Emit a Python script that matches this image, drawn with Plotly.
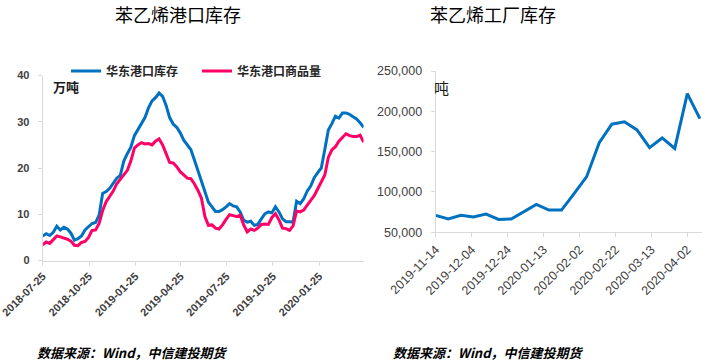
import pandas as pd
import plotly.graph_objects as go

# ---------------- data ----------------
port_start = "2018-07-25"
port_stock = [5.3, 5.8, 5.4, 6.1, 7.4, 6.6, 7.2, 6.8, 5.9, 4.4, 4.7, 5.3, 6.6, 7.2, 8.0, 8.2,
              9.8, 14.5, 14.9, 15.6, 16.7, 17.8, 18.4, 21.5, 23.1, 24.5, 27.0, 28.2, 29.4, 30.9,
              33.0, 34.5, 35.2, 36.2, 35.5, 33.5, 30.9, 29.5, 28.8, 27.6, 26.0, 24.9, 24.0, 21.8,
              19.4, 17.2, 15.0, 12.6, 11.6, 10.6, 10.6, 11.0, 11.6, 12.3, 11.8, 11.6, 10.5, 8.7,
              8.3, 8.5, 7.6, 7.8, 9.0, 10.1, 10.5, 10.3, 11.6, 10.5, 9.0, 8.4, 8.4, 8.3, 12.8,
              12.3, 13.3, 15.0, 16.1, 17.9, 19.0, 20.0, 24.0, 28.2, 29.6, 31.2, 30.8, 31.9, 31.9,
              31.6, 31.1, 30.6, 29.8, 28.8]
port_goods = [3.4, 4.0, 3.7, 4.4, 5.3, 5.1, 4.9, 4.6, 4.2, 3.3, 3.2, 3.9, 4.1, 5.0, 6.5, 6.6,
              8.0, 10.8, 12.7, 13.9, 15.0, 16.6, 17.5, 18.5, 19.5, 21.5, 24.3, 25.0, 25.5, 25.2,
              25.3, 25.0, 25.8, 26.3, 25.0, 23.1, 21.2, 21.1, 20.3, 19.2, 18.4, 17.8, 17.7, 16.6,
              15.2, 13.5, 9.5, 7.6, 7.7, 7.0, 6.8, 7.7, 8.9, 9.9, 9.7, 9.5, 9.8, 7.7, 6.2, 6.8,
              6.5, 7.0, 7.8, 7.9, 7.8, 9.3, 10.1, 8.8, 7.0, 6.9, 6.5, 7.5, 10.7, 10.5, 10.9, 12.1,
              13.0, 14.0, 15.4, 16.8, 18.5, 22.3, 23.9, 24.6, 25.8, 26.6, 27.4, 27.0, 26.8, 26.8,
              27.1, 25.6]
port_dates = pd.date_range(port_start, periods=len(port_stock), freq="7D")
port_ticks = ["2018-07-25", "2018-10-25", "2019-01-25", "2019-04-25",
              "2019-07-25", "2019-10-25", "2020-01-25"]

plant_dates = ["2019-11-14", "2019-11-21", "2019-11-28", "2019-12-05", "2019-12-12",
               "2019-12-19", "2019-12-26", "2020-01-02", "2020-01-09", "2020-01-16",
               "2020-01-23", "2020-01-30", "2020-02-06", "2020-02-13", "2020-02-20",
               "2020-02-27", "2020-03-05", "2020-03-12", "2020-03-19", "2020-03-26",
               "2020-04-02", "2020-04-09"]
plant_stock = [71000, 66500, 71000, 69000, 72500, 66000, 66500, 75000, 84500, 77500, 77500,
               98000, 119000, 161000, 184000, 187000, 177000, 155000, 167000, 154000,
               222000, 191000]
plant_ticks = ["2019-11-14", "2019-12-04", "2019-12-24", "2020-01-13", "2020-02-02",
               "2020-02-22", "2020-03-13", "2020-04-02"]

BLUE = "#0070C0"
PINK = "#FF0066"
W, H = 718, 364

def px(x):
    return x / W

def py(y):
    return 1 - y / H

fig = go.Figure()
fig.add_trace(go.Scatter(x=port_dates, y=port_stock, mode="lines", name="华东港口库存",
                         line=dict(color=BLUE, width=3), xaxis="x", yaxis="y"))
fig.add_trace(go.Scatter(x=port_dates, y=port_goods, mode="lines", name="华东港口商品量",
                         line=dict(color=PINK, width=3), xaxis="x", yaxis="y"))
fig.add_trace(go.Scatter(x=plant_dates, y=plant_stock, mode="lines", name="苯乙烯工厂库存",
                         line=dict(color=BLUE, width=3), xaxis="x2", yaxis="y2",
                         showlegend=False))

axis_common = dict(showgrid=False, zeroline=False, showline=True, linecolor="#D9D9D9",
                   linewidth=1, ticks="outside", tickcolor="#D9D9D9", ticklen=4,
                   automargin=False, ticklabeloverflow="allow")

fig.update_layout(
    width=W, height=H,
    margin=dict(l=0, r=0, t=0, b=0, autoexpand=False),
    paper_bgcolor="white", plot_bgcolor="white",
    font=dict(family="Liberation Sans, Arial, Noto Sans CJK SC", color="#404040"),
    xaxis=dict(axis_common, type="date", domain=[px(42.7), px(363.6)],
               range=[port_start, "2020-04-22"], tickvals=port_ticks, ticktext=port_ticks,
               tickangle=-45, anchor="y",
               tickfont=dict(size=11, weight="bold", color="#404040")),
    yaxis=dict(axis_common, domain=[py(260.5), py(75.5)], range=[0, 40], dtick=10,
               anchor="x", ticklabelstandoff=6,
               tickfont=dict(size=11, weight="bold", color="#404040")),
    xaxis2=dict(axis_common, type="date", domain=[px(435.7), px(701.7)],
                range=["2019-11-14", "2020-04-10"], tickvals=plant_ticks, ticktext=plant_ticks,
                tickangle=-45, anchor="y2",
                tickfont=dict(size=12.5, color="#404040")),
    yaxis2=dict(axis_common, domain=[py(232.3), py(71)], range=[50000, 250000], dtick=50000,
                tickformat=",", anchor="x2", ticklabelstandoff=6,
                tickfont=dict(size=12.5, color="#404040")),
    legend=dict(orientation="h", x=px(66), y=py(71), xanchor="left", yanchor="middle",
                entrywidth=86, entrywidthmode="pixels", itemwidth=30,
                bgcolor="rgba(0,0,0,0)",
                font=dict(size=12, weight="bold", color="#262626",
                          family="Noto Sans CJK SC")),
)

ann = []
ann.append(dict(text="苯乙烯港口库存", x=px(177.5), y=py(14), xref="paper", yref="paper",
                showarrow=False, xanchor="center", yanchor="middle",
                font=dict(size=18, color="black", family="Noto Sans CJK SC")))
ann.append(dict(text="苯乙烯工厂库存", x=px(493.5), y=py(14), xref="paper", yref="paper",
                showarrow=False, xanchor="center", yanchor="middle",
                font=dict(size=18, color="black", family="Noto Sans CJK SC")))
ann.append(dict(text="万吨", x=px(51), y=py(86), xref="paper", yref="paper",
                showarrow=False, xanchor="left", yanchor="middle",
                font=dict(size=13, weight="bold", color="#1a1a1a", family="Noto Sans CJK SC")))
ann.append(dict(text="吨", x=px(432), y=py(87), xref="paper", yref="paper",
                showarrow=False, xanchor="left", yanchor="middle",
                font=dict(size=15, color="#1a1a1a", family="Noto Sans CJK SC")))
for xc in (35, 391):
    ann.append(dict(text="数据来源：Wind，中信建投期货", x=px(xc), y=py(352),
                    xref="paper", yref="paper", showarrow=False,
                    xanchor="left", yanchor="middle",
                    font=dict(size=13, weight="bold", style="italic", color="black",
                              family="Noto Sans CJK SC")))
fig.update_layout(annotations=ann)

fig.write_html("out.html", config={"displayModeBar": False},
               post_script="document.body.style.margin='0px';"
                           "document.body.style.overflow='hidden';")
